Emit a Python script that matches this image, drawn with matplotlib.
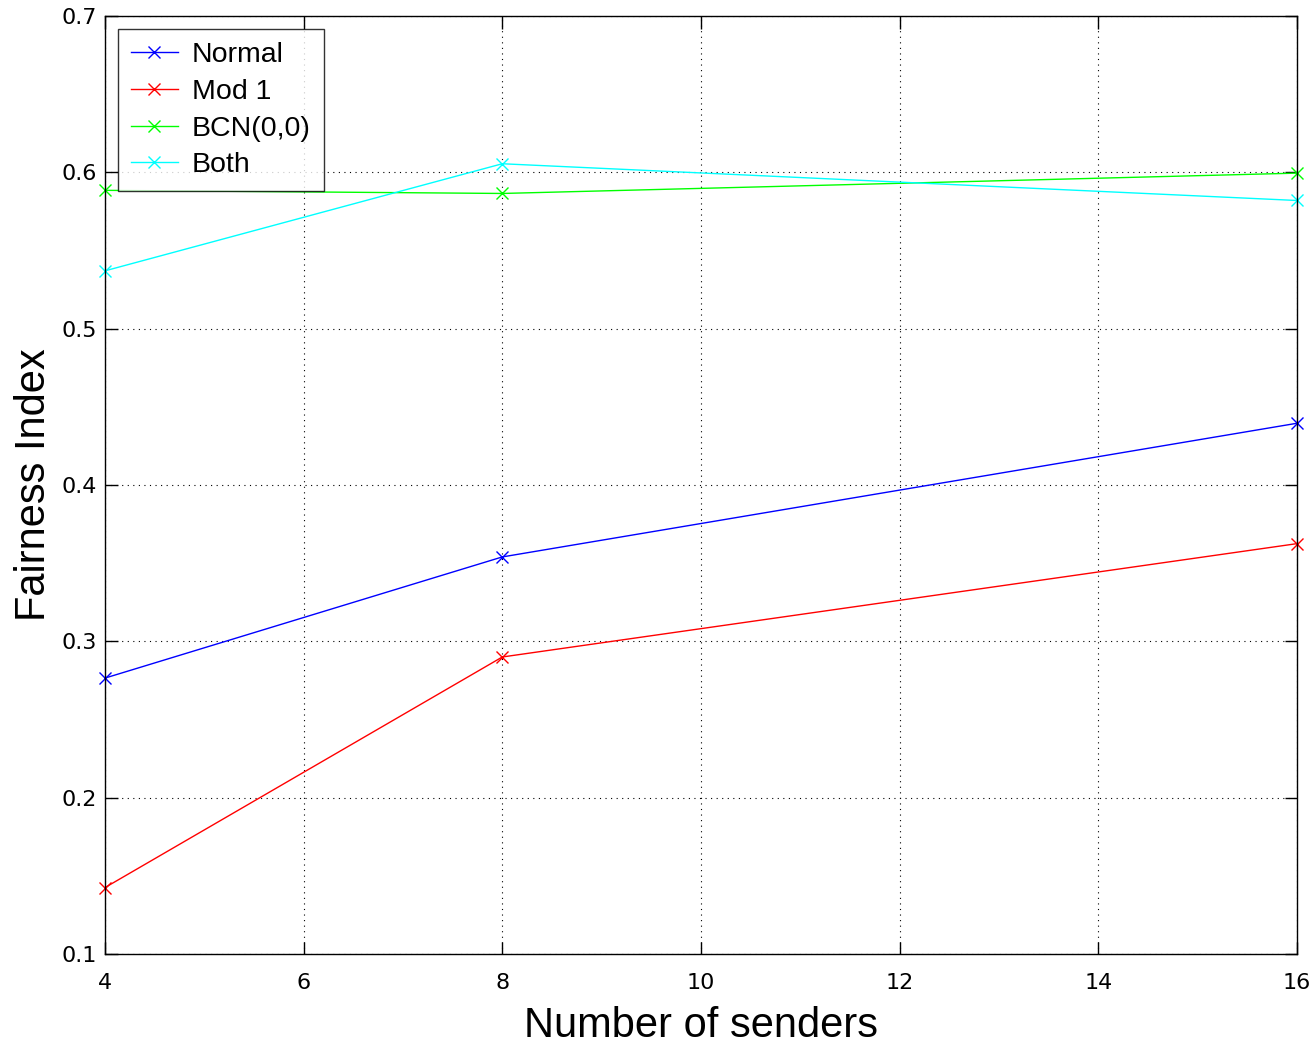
import matplotlib
matplotlib.use('Agg')
import matplotlib.pyplot as plt

plt.rcParams['font.family'] = ['Liberation Sans', 'DejaVu Sans']

# senders on the x axis
senders = [4, 8, 16]

# fairness index per scheme
normal = [0.2765, 0.354, 0.4395]
mod1 = [0.1425, 0.290, 0.3625]
bcn = [0.5885, 0.5865, 0.5995]
both = [0.537, 0.6055, 0.582]

labels = ['Normal', 'Mod 1', 'BCN(0,0)', 'Both']
colors = ['#0000ff', '#ff0000', '#00ff00', '#00ffff']

xticks = [4, 6, 8, 10, 12, 14, 16]
yticks = [0.1, 0.2, 0.3, 0.4, 0.5, 0.6, 0.7]

fig = plt.figure(figsize=(13.12, 10.47), dpi=100)
ax = fig.add_axes([0.0800, 0.0888, 0.9085, 0.8959])

for series, lab, col in zip([normal, mod1, bcn, both], labels, colors):
    ax.plot(senders, series, color=col, marker='x', markersize=9, linewidth=1,
            label=lab, clip_on=False)

ax.set_xlim(4, 16)
ax.set_ylim(0.1, 0.7)
ax.set_xticks(xticks)
ax.set_yticks(yticks)
ax.set_xticklabels([str(t) for t in xticks], family='DejaVu Sans', fontsize=16)
ax.set_yticklabels(['%g' % t for t in yticks], family='DejaVu Sans', fontsize=16)
ax.tick_params(direction='in', length=9, width=1, top=True, right=True)
ax.tick_params(axis='x', pad=14)
ax.tick_params(axis='y', pad=6)
ax.grid(True, color='black', linestyle=(0, (1, 4)), linewidth=0.8)
for sp in ax.spines.values():
    sp.set_linewidth(1)

ax.set_xlabel('Number of senders', fontsize=30, labelpad=9)
ax.set_ylabel('Fairness Index', fontsize=30, labelpad=5)

leg = ax.legend(loc='upper left', bbox_to_anchor=(0.011, 0.986), fontsize=20.5,
                frameon=True, fancybox=False, edgecolor='black',
                borderpad=0.45, labelspacing=0.38, handlelength=1.65,
                handletextpad=0.5, borderaxespad=0)
leg.get_frame().set_linewidth(1)

fig.savefig('out.png', dpi=100)
